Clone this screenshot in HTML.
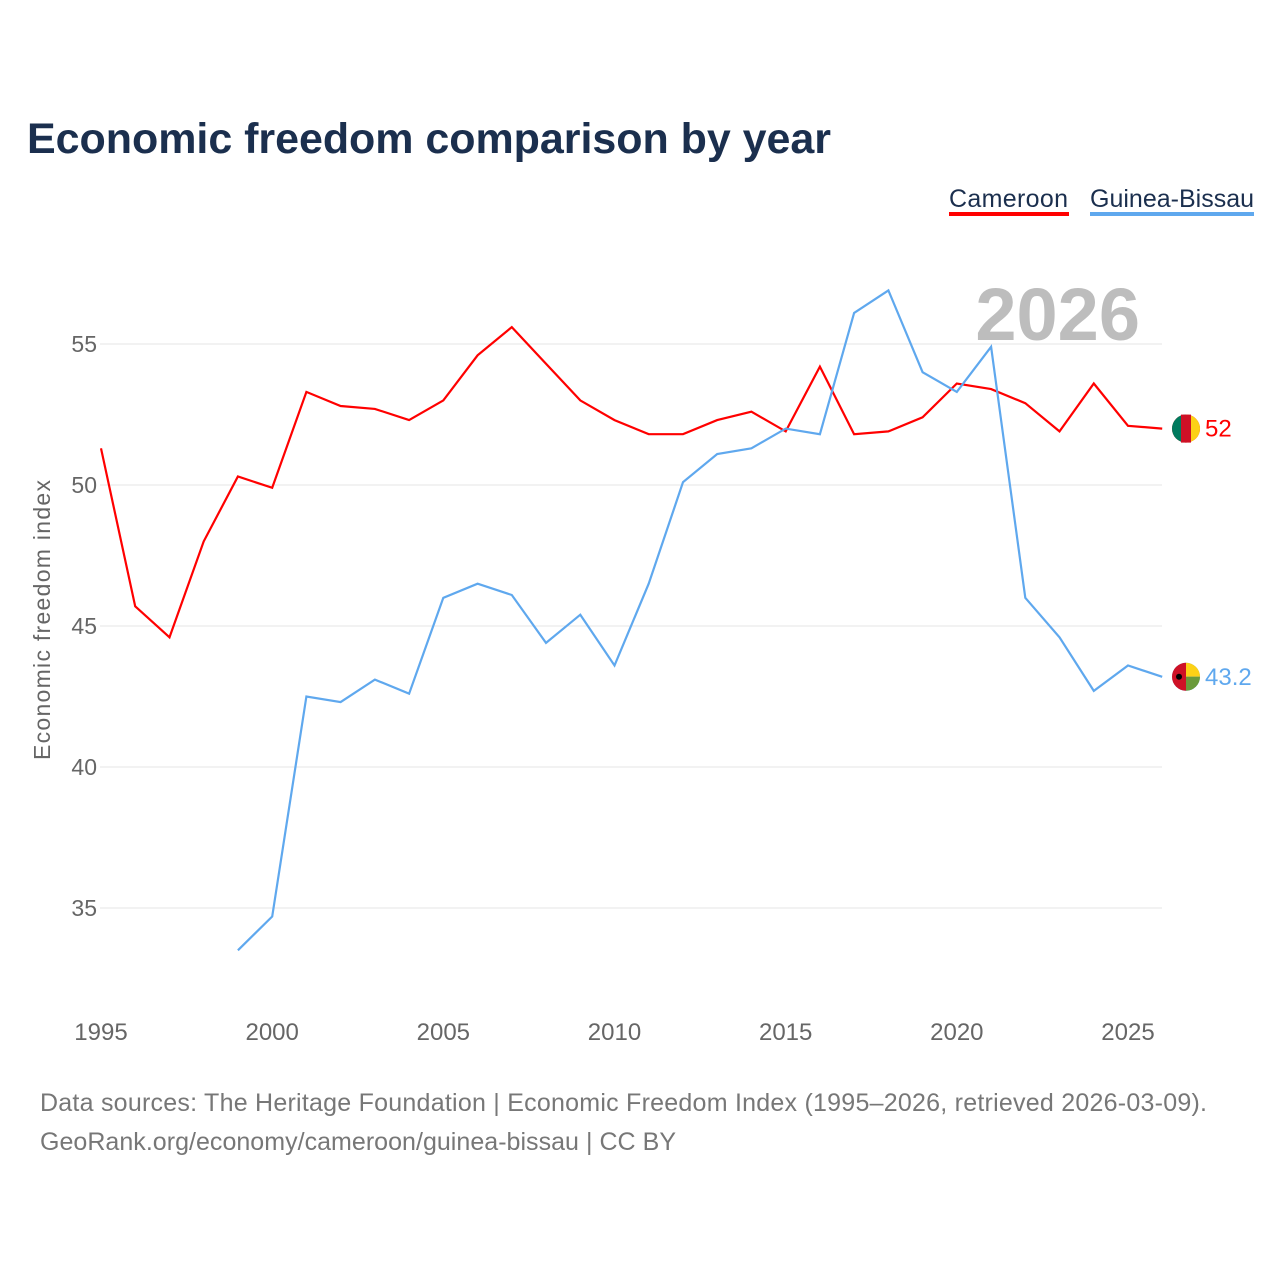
<!DOCTYPE html>
<html><head><meta charset="utf-8"><style>
body{margin:0;background:#fff;width:1280px;height:1280px;overflow:hidden;font-family:"Liberation Sans",sans-serif}
</style></head><body>
<svg width="1280" height="1280" xmlns="http://www.w3.org/2000/svg">
<text x="27" y="153" font-size="43" font-weight="bold" fill="#1b2f4e" textLength="804">Economic freedom comparison by year</text>
<g>
<text x="949" y="207" font-size="25" fill="#1b2f4e" textLength="119">Cameroon</text>
<rect x="949" y="212" width="120" height="4" fill="#ff0000"/></g>
<g>
<text x="1090" y="207" font-size="25" fill="#1b2f4e" textLength="164">Guinea-Bissau</text>
<rect x="1090" y="212" width="164" height="4" fill="#5fa8ee"/></g>
<text x="1140" y="340" font-size="74" font-weight="bold" fill="#bdbdbd" text-anchor="end">2026</text>
<g id="grid"></g><g id="xt"></g><g id="lines"></g>
<text transform="translate(50,620) rotate(-90)" font-size="23" fill="#666" text-anchor="middle" textLength="280">Economic freedom index</text>
<text x="40" y="1111" font-size="25" fill="#777" textLength="1167">Data sources: The Heritage Foundation | Economic Freedom Index (1995–2026, retrieved 2026-03-09).</text>
<text x="40" y="1150" font-size="25" fill="#777" textLength="636">GeoRank.org/economy/cameroon/guinea-bissau | CC BY</text>
</svg>
<script>
const years=[];for(let y=1995;y<=2026;y++)years.push(y);
const cameroon=[51.3,45.7,44.6,48.0,50.3,49.9,53.3,52.8,52.7,52.3,53.0,54.6,55.6,54.3,53.0,52.3,51.8,51.8,52.3,52.6,51.9,54.2,51.8,51.9,52.4,53.6,53.4,52.9,51.9,53.6,52.1,52.0];
const guinea=[null,null,null,null,33.5,34.7,42.5,42.3,43.1,42.6,46.0,46.5,46.1,44.4,45.4,43.6,46.5,50.1,51.1,51.3,52.0,51.8,56.1,56.9,54.0,53.3,54.9,46.0,44.6,42.7,43.6,43.2];
const yTicks=[35,40,45,50,55];
const xTicks=[1995,2000,2005,2010,2015,2020,2025];
const X=y=>101+(y-1995)*1027/30;
const Y=v=>344+(55-v)*28.2;
const NS="http://www.w3.org/2000/svg";
function mk(t,a,p){const e=document.createElementNS(NS,t);for(const k in a)e.setAttribute(k,a[k]);p.appendChild(e);return e;}
const g=document.getElementById('grid');
yTicks.forEach(v=>{
 const l=mk('line',{x1:100,x2:1162,y1:Y(v),y2:Y(v),stroke:'#e6e6e6','stroke-width':1},g);
 
 
 const t=mk('text',{x:97,y:Y(v)+8,'font-size':23,fill:'#666','text-anchor':'end'},g);t.textContent=v;
 
 
});
const xt=document.getElementById('xt');
xTicks.forEach(v=>{
 const t=mk('text',{x:X(v),y:1040,'font-size':24,fill:'#666','text-anchor':'middle'},xt);t.textContent=v;
 
 
});
const lg=document.getElementById('lines');
function series(vals,color,name,label){
 let d='';let s=false;
 vals.forEach((v,i)=>{if(v==null)return;d+=(s?'L':'M')+X(years[i]).toFixed(1)+' '+Y(v).toFixed(1);s=true;});
 const p=mk('path',{d:d,fill:'none',stroke:color,'stroke-width':2.2},lg);
 
 
 const last=vals[vals.length-1];
 const c=mk('circle',{cx:1186,cy:Y(last),r:14,fill:color},lg);
 
 
 const t=mk('text',{x:1205,y:Y(last)+8,'font-size':24,fill:color},lg);t.textContent=label;
 
 
 return c;
}
series(cameroon,'#ff0000','cameroon','52');
series(guinea,'#5fa8ee','guinea-bissau','43.2');
const cy1=Y(cameroon[cameroon.length-1]),cy2=Y(guinea[guinea.length-1]);
mk('path',{d:`M1186 ${cy1-14} A14 14 0 0 0 1186 ${cy1+14}Z`,fill:'#007a5e'},lg);
mk('path',{d:`M1186 ${cy1-14} A14 14 0 0 1 1186 ${cy1+14}Z`,fill:'#fcd116'},lg);
mk('rect',{x:1181,y:cy1-14,width:10,height:28,fill:'#ce1126'},lg);
mk('path',{d:`M1186 ${cy2} L1200 ${cy2} A14 14 0 0 0 1186 ${cy2-14}Z`,fill:'#fcd116'},lg);
mk('path',{d:`M1186 ${cy2} L1200 ${cy2} A14 14 0 0 1 1186 ${cy2+14}Z`,fill:'#6a9a3a'},lg);
mk('path',{d:`M1186 ${cy2-14} A14 14 0 0 0 1186 ${cy2+14}Z`,fill:'#ce1126'},lg);
mk('circle',{cx:1179,cy:cy2,r:3,fill:'#000'},lg);
</script>
</body></html>
